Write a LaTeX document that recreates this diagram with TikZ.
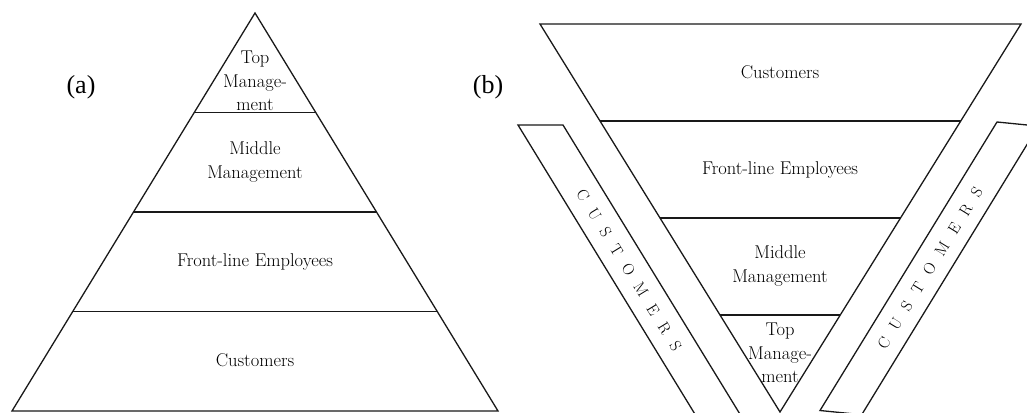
\documentclass[tikz,border=0pt]{standalone}
\usepackage{fontspec}
\newfontfamily\timesf{Liberation Serif}[Ligatures=TeX]
\usetikzlibrary{calc}
\newcommand\spc{\hspace{11.5pt}}
\begin{document}
\begin{tikzpicture}[x=1pt,y=-1pt,
  edge/.style={line width=1.3pt,draw=black!90,line join=miter},
  lbl/.style={font=\fontsize{18.5}{23.5}\selectfont,align=center,inner sep=0pt},
  bandtxt/.style={font=\fontsize{16}{16}\selectfont,inner sep=0pt},
  tag/.style={inner sep=0pt}]
\useasboundingbox (0,0) rectangle (1027,412);
\begin{scope}
\clip (0,0) rectangle (1027,412);
% ---------- (a) pyramid ----------
\coordinate (A) at (255,13);
\coordinate (BL) at (12,411);
\coordinate (BR) at (498,411);
\coordinate (aL1) at ($(A)!0.25!(BL)$);
\coordinate (aR1) at ($(A)!0.25!(BR)$);
\coordinate (aL2) at ($(A)!0.5!(BL)$);
\coordinate (aR2) at ($(A)!0.5!(BR)$);
\coordinate (aL3) at ($(A)!0.75!(BL)$);
\coordinate (aR3) at ($(A)!0.75!(BR)$);
\draw[edge] (A) -- (BL) -- (BR) -- cycle;
\draw[edge] (aL1) -- (aR1);
\draw[edge] (aL2) -- (aR2);
\draw[edge] (aL3) -- (aR3);
\node[lbl] (aTop) at (255,81) {Top\\Manage-\\ment};
\node[lbl] (aMid) at (255,162) {Middle\\Management};
\node[lbl] (aFront) at (255,262) {Front-line Employees};
\node[lbl] (aCust) at (255,360) {Customers};
\node[tag] (tagA) at (81,87) {\timesf\fontsize{26}{26}\selectfont (a)};
% ---------- (b) inverted pyramid ----------
\coordinate (TL) at (540,24);
\coordinate (TR) at (1021,24);
\coordinate (V) at (780,412);
\coordinate (bL1) at ($(TL)!0.25!(V)$);
\coordinate (bR1) at ($(TR)!0.25!(V)$);
\coordinate (bL2) at ($(TL)!0.5!(V)$);
\coordinate (bR2) at ($(TR)!0.5!(V)$);
\coordinate (bL3) at ($(TL)!0.75!(V)$);
\coordinate (bR3) at ($(TR)!0.75!(V)$);
\draw[edge] (TL) -- (TR) -- (V) -- cycle;
\draw[edge] (bL1) -- (bR1);
\draw[edge] (bL2) -- (bR2);
\draw[edge] (bL3) -- (bR3);
\node[lbl] (bCust) at (780,72) {Customers};
\node[lbl] (bFront) at (780,170) {Front-line Employees};
\node[lbl] (bMid) at (780,266) {Middle\\Management};
\node[lbl] (bTop) at (780,353) {Top\\Manage-\\ment};
\node[tag] (tagB) at (488,87) {\timesf\fontsize{26}{26}\selectfont (b)};
% left band
\coordinate (L1) at (518,125);
\coordinate (L2) at (563,125);
\coordinate (L3) at (746.6,425);
\coordinate (L4) at (701.6,425);
\draw[edge] (L4) -- (L1) -- (L2) -- (L3);
\node[bandtxt,rotate=-58.5] (lcust) at (629,270) {C\spc U\spc S\spc T\spc O\spc M\spc E\spc R\spc S};
% right band
\coordinate (Q1) at (997,122);
\coordinate (Q2) at (1038.3,126.1);
\coordinate (Q3) at (861.7,414.7);
\coordinate (Q4) at (820,410.5);
\draw[edge] (Q1) -- (Q2) -- (Q3) -- (Q4) -- cycle;
\node[bandtxt,rotate=58.5] (rcust) at (930,268) {C\spc U\spc S\spc T\spc O\spc M\spc E\spc R\spc S};
\end{scope}
\end{tikzpicture}
\end{document}
